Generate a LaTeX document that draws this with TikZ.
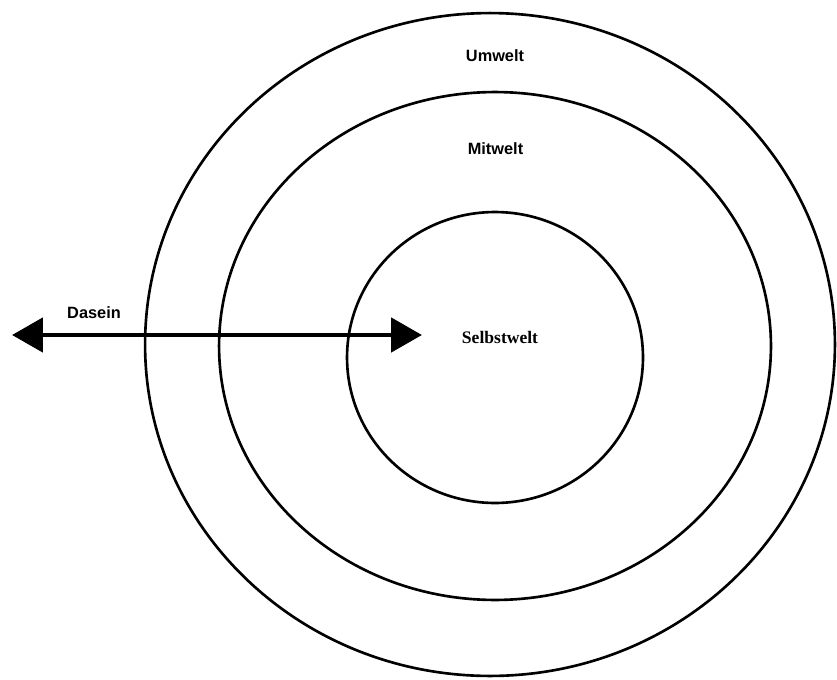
\documentclass[tikz,border=0pt]{standalone}
\usepackage{fontspec}
\setmainfont{Liberation Serif}
\newfontfamily\labelfont{Liberation Sans}
\usetikzlibrary{shapes.geometric}
\usetikzlibrary{arrows.meta}
\tikzstyle{ring} = [ellipse, draw, line width=1.5pt, inner sep=0pt]
\tikzstyle{world}=[font=\labelfont\bfseries\fontsize{9.3}{11}\selectfont]
\tikzstyle{self}=[font=\bfseries\fontsize{10}{12}\selectfont]
\tikzstyle{move}=[line width=2.8pt,
                  {Triangle[length=0.62cm,width=0.68cm]}-{Triangle[length=0.62cm,width=0.68cm]}]
\newcommand{\ring}[4]{\node [ring, minimum width=#3cm, minimum height=#4cm] (#1) at #2 {};}

\begin{document}
\begin{tikzpicture}[x=0.02cm, y=-0.02cm]
  \useasboundingbox (0,0) rectangle (837,679);
  \ring {umwelt} {(490,344.5)} {13.8} {13.26}
  \ring {mitwelt} {(495,346)} {11.04} {10.16}
  \ring {selbst} {(495,357.5)} {5.92} {5.82}
  \node [world] (um) at (495,55.5) {Umwelt};
  \node [world] (mit) at (495.5,149) {Mitwelt};
  \node [self] (selbstlabel) at (500,337) {Selbstwelt};
  \node [world] (dasein) at (94,313) {Dasein};
  \coordinate (dleft) at (12,335);
  \coordinate (dright) at (422,335);
  \draw [move] (dleft) -- (dright);
\end{tikzpicture}
\end{document}
